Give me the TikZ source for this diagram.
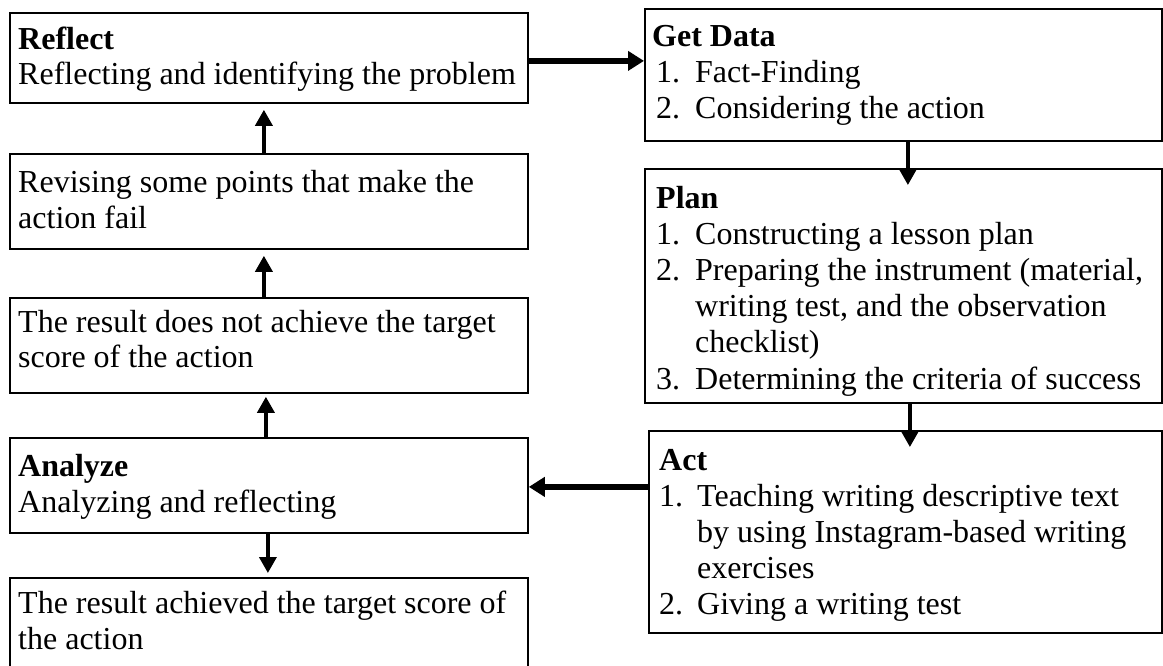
\documentclass[tikz,border=0pt]{standalone}
\usepackage{fontspec}
\setmainfont{Liberation Serif}
\usetikzlibrary{arrows.meta}
\begin{document}
\begin{tikzpicture}[x=1pt,y=-1pt,
  box/.style={draw=black, line width=1.8pt, anchor=north west, inner sep=0pt},
  txt/.style={anchor=base west, inner sep=0pt, font=\fontsize{32}{36}\selectfont},
  hd/.style={txt, font=\fontsize{32}{36}\selectfont\bfseries},
  varr/.style={line width=3.6pt, -{Triangle[length=16pt,width=17pt]}},
  harr/.style={line width=5.5pt, -{Triangle[length=16pt,width=19pt]}},
]
\path[use as bounding box] (0,0) rectangle (1163,666);
\fill[white] (0,0) rectangle (1163,666);
\clip (0,0) rectangle (1163,666);

% ---------- left column boxes ----------
\node[box, minimum width=518pt, minimum height=90pt] (reflect) at (9,12) {};
\node[box, minimum width=518pt, minimum height=95pt] (revise)  at (9,153) {};
\node[box, minimum width=518pt, minimum height=95pt] (fail)    at (9,297) {};
\node[box, minimum width=518pt, minimum height=95pt] (analyze) at (9,437) {};
\node[box, minimum width=518pt, minimum height=100pt] (success) at (9,577) {};

% ---------- right column boxes ----------
\node[box, minimum width=517pt, minimum height=132pt] (getdata) at (644,8) {};
\node[box, minimum width=517pt, minimum height=234pt] (plan)    at (644,168) {};
\node[box, minimum width=513pt, minimum height=202pt] (act)     at (648,430) {};

% ---------- texts ----------
\node[hd]  (t1) at (18,50) {Reflect};
\node[txt] (t2) at (18,85) {Reflecting and identifying the problem};

\node[txt] (t3) at (18,193) {Revising some points that make the};
\node[txt] (t4) at (18,229) {action fail};

\node[txt] (t5) at (18,332) {The result does not achieve the target};
\node[txt] (t6) at (18,367) {score of the action};

\node[hd]  (t7) at (18,476) {Analyze};
\node[txt] (t8) at (18,512) {Analyzing and reflecting};

\node[txt] (t9)  at (18,613) {The result achieved the target score of};
\node[txt] (t10) at (18,649) {the action};

\node[hd]  (g0) at (652,47) {Get Data};
\node[txt] (g1n) at (656,83) {1.};
\node[txt] (g1) at (695,83) {Fact-Finding};
\node[txt] (g2n) at (656,119) {2.};
\node[txt] (g2) at (695,119) {Considering the action};

\begin{scope}
\clip (644,168) rectangle (1161,395);
\node[hd]  (p0) at (656,208) {Plan};
\node[txt] (p1n) at (656,244) {1.};
\node[txt] (p1) at (695,244) {Constructing a lesson plan};
\node[txt] (p2n) at (656,280) {2.};
\node[txt] (p2) at (695,280) {Preparing the instrument (material,};
\node[txt] (p3) at (695,316) {writing test, and the observation};
\node[txt] (p4) at (695,352) {checklist)};
\node[txt] (p5n) at (656,389) {3.};
\node[txt] (p5) at (695,389) {Determining the criteria of success};
\end{scope}

\node[hd]  (a0) at (659,470) {Act};
\node[txt] (a1n) at (659,506) {1.};
\node[txt] (a1) at (697,506) {Teaching writing descriptive text};
\node[txt] (a2) at (697,542) {by using Instagram-based writing};
\node[txt] (a3) at (697,578) {exercises};
\node[txt] (a4n) at (659,614) {2.};
\node[txt] (a4) at (697,614) {Giving a writing test};

% ---------- connectors ----------
\draw[harr] ([yshift=-3pt]reflect.east) -- ([yshift=-3pt]reflect.east -| getdata.west);
\draw[varr] ([xshift=4.5pt]getdata.south) -- ([xshift=4.5pt,yshift=-17pt]getdata.south |- plan.north);
\draw[varr] ([xshift=6.5pt]plan.south) -- ([xshift=6.5pt,yshift=-17pt]plan.south |- act.north);
\draw[harr] ([yshift=-1.5pt]act.west |- analyze.east) -- ([yshift=-1.5pt]analyze.east);
\draw[varr] ([xshift=-5pt]revise.north) -- ([xshift=-5pt,yshift=-6pt]reflect.south);
\draw[varr] ([xshift=-5pt]fail.north) -- ([xshift=-5pt,yshift=-6pt]revise.south);
\draw[varr] ([xshift=-3pt]analyze.north) -- ([xshift=-3pt,yshift=-3pt]fail.south);
\draw[varr] ([xshift=-1pt]analyze.south) -- ([xshift=-1pt,yshift=4pt]success.north);
\end{tikzpicture}
\end{document}
